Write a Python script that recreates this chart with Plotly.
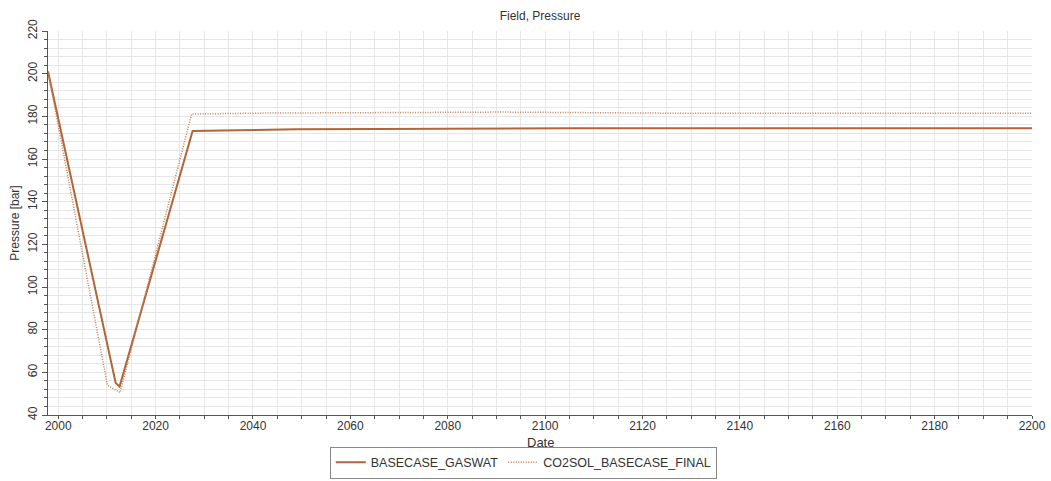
import plotly.graph_objects as go

# Field pressure, simulated by two cases (decimal years, bar)
gaswat_years = [1997.9, 2011.8, 2012.6, 2027.6, 2033.7, 2040.0, 2049.0, 2066.0, 2105.7, 2200.0]
gaswat_pressure = [201.0, 55.0, 53.3, 173.1, 173.4, 173.7, 173.9, 174.1, 174.4, 174.4]

co2sol_years = [1997.9, 2010.1, 2012.7, 2027.4, 2041.5, 2091.2, 2123.7, 2200.0]
co2sol_pressure = [201.0, 54.0, 50.5, 181.1, 181.5, 182.0, 181.5, 181.5]

series_names = ["BASECASE_GASWAT", "CO2SOL_BASECASE_FINAL"]

FONT = "Liberation Sans, Arial, sans-serif"
TEXT = "#333333"
GRID = "#e6e6e6"
AXIS = "#555555"

fig = go.Figure()
fig.add_trace(go.Scatter(
    x=gaswat_years, y=gaswat_pressure, mode="lines", name=series_names[0],
    line=dict(color="#b0653a", width=2),
))
fig.add_trace(go.Scatter(
    x=co2sol_years, y=co2sol_pressure, mode="lines", name=series_names[1],
    line=dict(color="#c27c55", width=1.5, dash="1px,1.5px"),
))

fig.update_layout(
    width=1051, height=481,
    margin=dict(l=48, r=19, t=31, b=66, autoexpand=False),
    paper_bgcolor="white", plot_bgcolor="white",
    font=dict(family=FONT, size=12, color=TEXT),
    title=dict(text="Field, Pressure", x=0.5, xref="paper", y=0.975, yref="container",
               xanchor="center", yanchor="top", font=dict(size=12, color=TEXT)),
    showlegend=True,
    legend=dict(orientation="h", x=0.483, xanchor="center",
                y=0.005, yref="container", yanchor="bottom",
                bordercolor="#888888", borderwidth=1, font=dict(size=12.5, color=TEXT),
                itemwidth=30, tracegroupgap=0),
    # x-axis title placed as an annotation so its position is fixed
    annotations=[dict(text="Date", x=0.5, xref="paper", y=-0.072, yref="paper",
                      xanchor="center", yanchor="middle", showarrow=False,
                      font=dict(size=13, color=TEXT))],
)

fig.update_xaxes(
    range=[1997.9, 2200], dtick=20, tick0=2000, automargin=False,
    showline=True, linecolor=AXIS, linewidth=1, mirror=False,
    ticks="outside", ticklen=3, tickcolor=AXIS, ticklabelstandoff=-3,
    showgrid=True, gridcolor=GRID, gridwidth=1,
    minor=dict(dtick=5, tick0=2000, showgrid=True, gridcolor=GRID,
               ticks="outside", ticklen=3, tickcolor=AXIS),
    tickfont=dict(size=12, color=TEXT),
    zeroline=False,
)
fig.update_yaxes(
    range=[40, 220], dtick=20, tick0=40, automargin=False,
    showline=True, linecolor=AXIS, linewidth=1,
    ticks="outside", ticklen=5, tickcolor=AXIS,
    showgrid=True, gridcolor=GRID, gridwidth=1,
    minor=dict(dtick=4, tick0=40, showgrid=True, gridcolor=GRID,
               ticks="outside", ticklen=3, tickcolor=AXIS),
    tickangle=-90,
    tickfont=dict(size=12, color=TEXT),
    title=dict(text="Pressure [bar]", font=dict(size=12, color=TEXT), standoff=4),
    zeroline=False,
)

fig.write_html("out.html")
